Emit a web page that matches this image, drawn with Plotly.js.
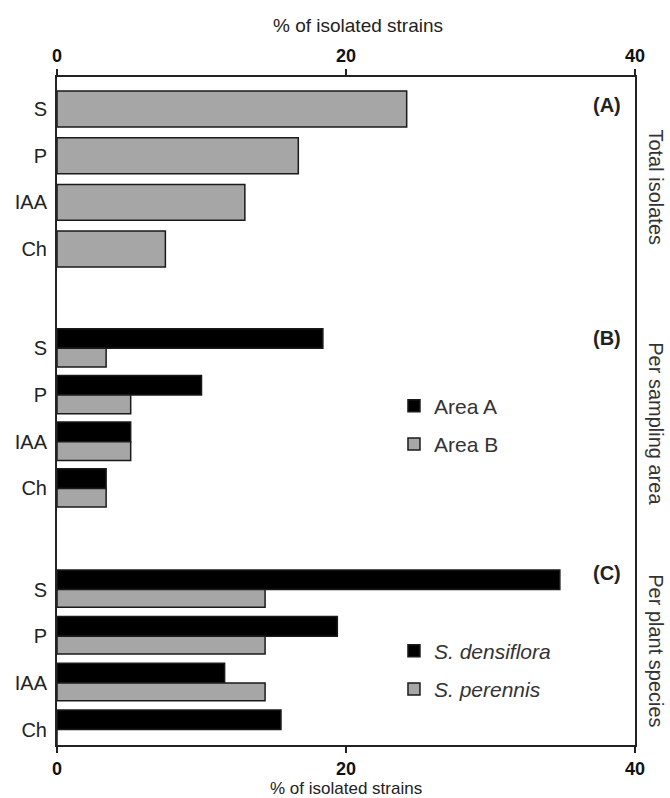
<!DOCTYPE html>
<html>
<head>
<meta charset="utf-8">
<script src="https://cdn.plot.ly/plotly-3.0.1.min.js"></script>
<style>html,body{margin:0;padding:0;background:#fff;}#chart{width:670px;height:798px;}</style>
</head>
<body>
<div id="chart"></div>
<script>
// ---- data ----
const categories = ['S', 'P', 'IAA', 'Ch'];
const totalIsolates = [24.2, 16.7, 13.0, 7.5];
const areaA = [18.4, 10.0, 5.1, 3.4];
const areaB = [3.4, 5.1, 5.1, 3.4];
const sDensiflora = [34.8, 19.4, 11.6, 15.5];
const sPerennis = [14.4, 14.4, 14.4, 0];
const xTicks = [0, 20, 40];
const axisTitle = '% of isolated strains';
const panelLabels = ['(A)', '(B)', '(C)'];
const panelTitles = ['Total isolates', 'Per sampling area', 'Per plant species'];

// ---- styles ----
const FONT = 'Liberation Sans, Arial, sans-serif';
const BLACK = '#000000';
const GREY = '#a6a6a6';
const EDGE = '#1a1a1a';
const LINE = '#222222';

const barLine = {color: EDGE, width: 1.5};

const traces = [
  {type: 'bar', orientation: 'h', x: totalIsolates, y: categories, xaxis: 'x2', yaxis: 'y',
   width: 0.77, marker: {color: GREY, line: barLine}, showlegend: false, name: 'Total'},
  {type: 'bar', orientation: 'h', x: areaA, y: categories, xaxis: 'x', yaxis: 'y2',
   width: 0.42, offset: -0.42, marker: {color: BLACK, line: barLine},
   name: 'Area A', legend: 'legend', legendgroup: 'a'},
  {type: 'bar', orientation: 'h', x: areaB, y: categories, xaxis: 'x', yaxis: 'y2',
   width: 0.40, offset: 0, marker: {color: GREY, line: barLine},
   name: 'Area B', legend: 'legend', legendgroup: 'b'},
  {type: 'bar', orientation: 'h', x: sDensiflora, y: categories, xaxis: 'x', yaxis: 'y3',
   width: 0.42, offset: -0.42, marker: {color: BLACK, line: barLine},
   name: '<i>S. densiflora</i>', legend: 'legend2', legendgroup: 'c'},
  {type: 'bar', orientation: 'h', x: sPerennis, y: categories, xaxis: 'x', yaxis: 'y3',
   width: 0.38, offset: 0, marker: {color: GREY, line: barLine},
   name: '<i>S. perennis</i>', legend: 'legend2', legendgroup: 'd'}
];

const xCommon = {
  range: [0, 40], tickvals: xTicks, ticktext: xTicks.map(String),
  showgrid: false, zeroline: false, showline: true, linecolor: LINE, linewidth: 2,
  ticks: 'outside', ticklen: 6, tickwidth: 1.5, tickcolor: LINE,
  tickfont: {family: FONT, size: 18, color: '#111', weight: 'bold'},
  fixedrange: true
};

const yCommon = {
  type: 'category', categoryarray: categories, categoryorder: 'array',
  showgrid: false, zeroline: false, showline: true, mirror: true, linecolor: LINE, linewidth: 2,
  ticks: '', ticklabelstandoff: 4,
  tickfont: {family: FONT, size: 20, color: '#222'}, fixedrange: true
};

const legendCommon = {
  x: 0.583, xanchor: 'left', yanchor: 'middle', bgcolor: 'rgba(0,0,0,0)', borderwidth: 0,
  font: {family: FONT, size: 21, color: '#333'}, traceorder: 'grouped', tracegroupgap: 8
};

const annY = [0.958, 0.609, 0.2575];
const titleY = [0.835, 0.4805, 0.1407];
const annotations = [];
panelLabels.forEach((t, i) => annotations.push({
  text: t, xref: 'paper', yref: 'paper', x: 0.9516, y: annY[i], showarrow: false,
  xanchor: 'center', yanchor: 'middle', font: {family: FONT, size: 20, color: '#222', weight: 'bold'}
}));
panelTitles.forEach((t, i) => annotations.push({
  text: t, xref: 'paper', yref: 'paper', x: 1.036, y: titleY[i], showarrow: false, textangle: 90,
  xanchor: 'center', yanchor: 'middle', font: {family: FONT, size: 20, color: '#333'}
}));
// axis titles (top and bottom x axes)
annotations.push({
  text: axisTitle, xref: 'paper', yref: 'paper', x: 0.52, y: 1.0778, showarrow: false,
  xanchor: 'center', yanchor: 'middle', font: {family: FONT, size: 19, color: '#222'}
});
annotations.push({
  text: axisTitle, xref: 'paper', yref: 'paper', x: 0.5, y: -0.0650, showarrow: false,
  xanchor: 'center', yanchor: 'middle', font: {family: FONT, size: 17, color: '#222'}
});

const layout = {
  width: 670, height: 798,
  margin: {l: 57, r: 35, t: 77, b: 53, pad: 0},
  paper_bgcolor: '#ffffff', plot_bgcolor: '#ffffff',
  barmode: 'overlay',
  showlegend: true,
  xaxis: Object.assign({}, xCommon, {anchor: 'y3', side: 'bottom'}),
  xaxis2: Object.assign({}, xCommon, {anchor: 'y', side: 'top', matches: 'x'}),
  yaxis: Object.assign({}, yCommon, {domain: [0.6678, 1], anchor: 'x2', range: [4.067, -0.685]}),
  yaxis2: Object.assign({}, yCommon, {domain: [0.308, 0.6678], anchor: 'x', range: [4.089, -1.058]}),
  yaxis3: Object.assign({}, yCommon, {domain: [0, 0.308], anchor: 'x', range: [3.330, -1.076]}),
  legend: Object.assign({}, legendCommon, {y: 0.479}),
  legend2: Object.assign({}, legendCommon, {y: 0.1123}),
  annotations: annotations
};

Plotly.newPlot('chart', traces, layout, {displayModeBar: false, staticPlot: true});
</script>
</body>
</html>
